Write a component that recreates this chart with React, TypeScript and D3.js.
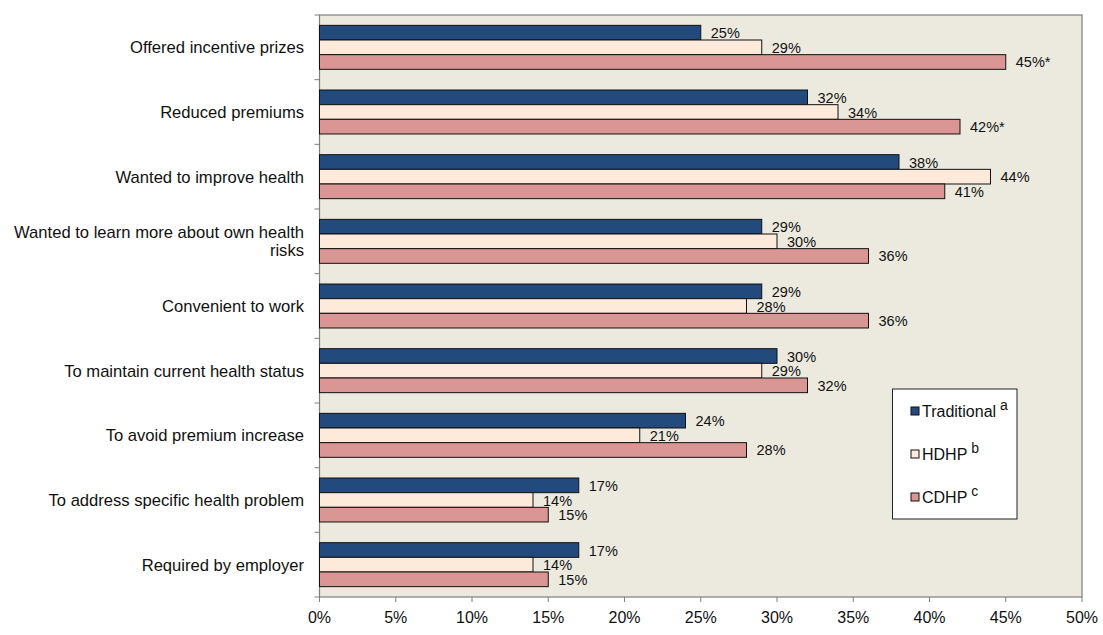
import React from "react";
import * as d3 from "d3";

const categories = [
  ["Offered incentive prizes"],
  ["Reduced premiums"],
  ["Wanted to improve health"],
  ["Wanted to learn more about own health", "risks"],
  ["Convenient to work"],
  ["To maintain current health status"],
  ["To avoid premium increase"],
  ["To address specific health problem"],
  ["Required by employer"],
];
const traditional = [25, 32, 38, 29, 29, 30, 24, 17, 17];
const hdhp = [29, 34, 44, 30, 28, 29, 21, 14, 14];
const cdhp = [45, 42, 41, 36, 36, 32, 28, 15, 15];
const cdhpMarks = ["*", "*", "", "", "", "", "", "", ""];
const seriesNames = ["Traditional", "HDHP", "CDHP"];
const seriesSup = ["a", "b", "c"];
const xTicks = [0, 5, 10, 15, 20, 25, 30, 35, 40, 45, 50];

const colors = ["#234A7C", "#FDEADB", "#DA9694"];
const FONT = "Liberation Sans, Arial, sans-serif";

export default function App() {
  const W = 1103, H = 635;
  const left = 319.5, right = 1082, top = 15, bottom = 597;
  const x = d3.scaleLinear().domain([0, 50]).range([left, right]);
  const y = d3.scaleBand<number>().domain(d3.range(categories.length)).range([top, bottom]).paddingInner(0.32).paddingOuter(0.16);
  const sub = d3.scaleBand<number>().domain([0, 1, 2]).range([0, y.bandwidth()]);
  const band = (bottom - top) / categories.length;
  const series = [traditional, hdhp, cdhp];

  return (
    <svg width={W} height={H} style={{ position: "absolute", left: 0, top: 0 }} fontFamily={FONT}>
      <rect x={0} y={0} width={W} height={H} fill="#fff" />
      <rect x={left} y={top} width={right - left} height={bottom - top} fill="#ECEADF" stroke="#7f7f7f" strokeWidth={1.2} />
      {d3.range(categories.length + 1).map((i) => (
        <line key={"yt" + i} x1={left - 5} x2={left} y1={top + i * band} y2={top + i * band} stroke="#7f7f7f" />
      ))}
      {xTicks.map((t) => (
        <g key={"xt" + t}>
          <line x1={x(t)} x2={x(t)} y1={bottom} y2={bottom + 5} stroke="#7f7f7f" />
          <text x={x(t)} y={bottom + 26} textAnchor="middle" fontSize={16} fill="#111">{t + "%"}</text>
        </g>
      ))}
      {categories.map((c, i) => (
        <g key={"c" + i}>
          {series.map((s, k) => {
            const by = (y(i) as number) + (sub(k) as number);
            const bh = sub.bandwidth();
            const label = s[i] + "%" + (k === 2 ? cdhpMarks[i] : "");
            return (
              <g key={k}>
                <rect x={x(0)} y={by} width={x(s[i]) - x(0)} height={bh} fill={colors[k]} stroke="#111" strokeWidth={1} />
                <text x={x(s[i]) + 10} y={by + bh / 2 + 5.5} fontSize={14.5} fill="#111">{label}</text>
              </g>
            );
          })}
          {c.map((line, li) => (
            <text key={li} x={304} y={top + i * band + band / 2 + 6 - (c.length - 1) * 9 + li * 18} textAnchor="end" fontSize={16.6} fill="#111">{line}</text>
          ))}
        </g>
      ))}
      <rect x={892.5} y={389} width={124.5} height={130} fill="#fff" stroke="#222" strokeWidth={1} />
      {seriesNames.map((n, k) => (
        <g key={"lg" + k}>
          <rect x={911} y={407 + k * 43} width={8} height={8} fill={colors[k]} stroke="#111" strokeWidth={1} />
          <text x={922} y={417 + k * 43} fontSize={16} fill="#111">
            {n}
            <tspan dx={4} dy={-7} fontSize={14}>{seriesSup[k]}</tspan>
          </text>
        </g>
      ))}
    </svg>
  );
}
